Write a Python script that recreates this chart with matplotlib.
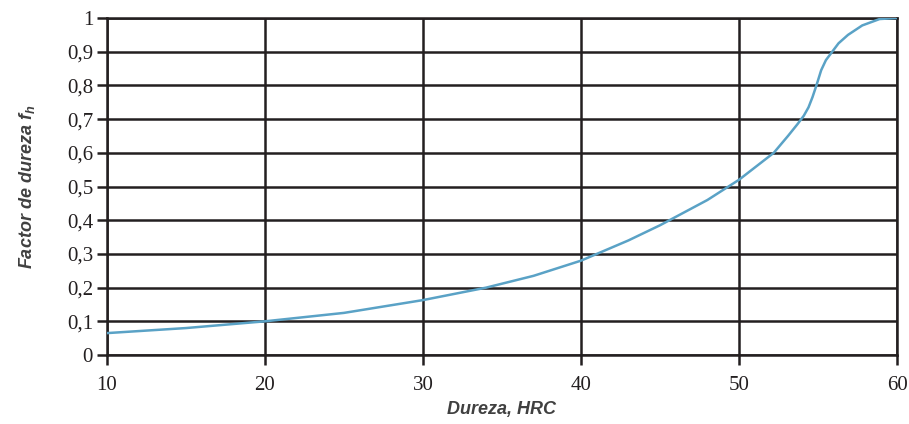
import numpy as np
import matplotlib
matplotlib.use("Agg")
import matplotlib.pyplot as plt

plt.rcParams["mathtext.fontset"] = "custom"
plt.rcParams["mathtext.it"] = "Liberation Sans:italic:bold"
plt.rcParams["mathtext.rm"] = "Liberation Sans:italic:bold"

# hardness (HRC) vs hardness factor f_h
hrc = [10, 15, 20, 25, 30, 34, 37, 40, 43, 45, 48, 50, 52.2, 53.1, 53.7, 54.1, 54.4, 54.65, 54.9,
       55.2, 55.5, 55.9, 56.3, 56.9, 57.8, 58.9, 60]
fh = [0.065, 0.08, 0.10, 0.125, 0.163, 0.20, 0.235, 0.28, 0.34, 0.385, 0.46, 0.52, 0.60, 0.65, 0.685, 0.71,
      0.735, 0.765, 0.80, 0.845, 0.875, 0.90, 0.925, 0.95, 0.978, 0.997, 1.0]

x_ticks = [10, 20, 30, 40, 50, 60]
y_ticks = [0, 0.1, 0.2, 0.3, 0.4, 0.5, 0.6, 0.7, 0.8, 0.9, 1]
y_labels = ["0", "0,1", "0,2", "0,3", "0,4", "0,5", "0,6", "0,7", "0,8", "0,9", "1"]

grid_col = "#231f20"

fig = plt.figure(figsize=(9.09, 4.24), dpi=100)
ax = fig.add_axes([0.1177, 0.1627, 0.8691, 0.7948])

ax.plot(hrc, fh, color="#5aa2c6", lw=1.8, zorder=3, solid_capstyle="round",
        solid_joinstyle="round")

ax.set_xlim(10, 60)
ax.set_ylim(0, 1)
ax.set_xticks(x_ticks)
ax.set_yticks(y_ticks)
ax.set_yticklabels(y_labels)
ax.grid(True, color=grid_col, lw=1.8)
ax.set_axisbelow(True)
for s in ax.spines.values():
    s.set_color(grid_col)
    s.set_linewidth(1.8)

ax.tick_params(axis="both", direction="out", length=7, width=1.8, color=grid_col,
               labelsize=15, labelcolor=grid_col, pad=3)
for lab in ax.get_xticklabels() + ax.get_yticklabels():
    lab.set_fontfamily("Liberation Serif")
ax.tick_params(axis="x", pad=8)

ax.set_xlabel("Dureza, HRC", fontfamily="Liberation Sans", fontsize=13,
              fontweight="bold", fontstyle="italic", color="#404040")
ax.set_ylabel("Factor de dureza $f_h$", fontfamily="Liberation Sans", fontsize=13,
              fontweight="bold", fontstyle="italic", color="#404040")
ax.xaxis.set_label_coords(0.5, -0.137)
ax.yaxis.set_label_coords(-0.089, 0.5)

fig.savefig("out.png", dpi=100)
